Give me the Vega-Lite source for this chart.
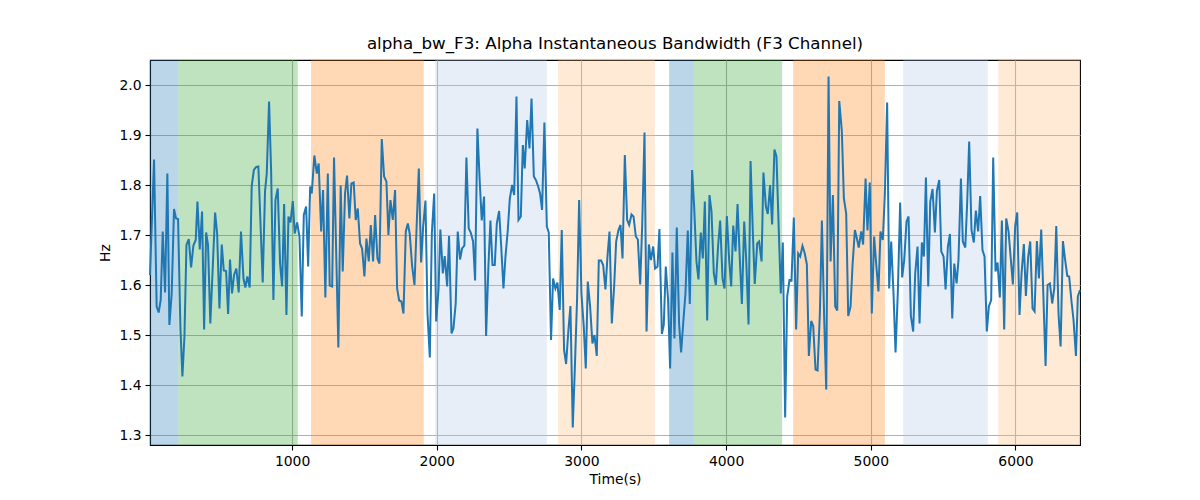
{
  "$schema": "https://vega.github.io/schema/vega-lite/v6.json",
  "width": 930,
  "height": 385,
  "autosize": {"type": "none"},
  "padding": {"left": 150, "top": 60, "right": 120, "bottom": 55},
  "background": "white",
  "title": {"text": "alpha_bw_F3: Alpha Instantaneous Bandwidth (F3 Channel)", "font": "DejaVu Sans", "fontSize": 16.7, "fontWeight": "normal", "color": "black", "anchor": "middle", "offset": 7},
  "config": {
    "font": "DejaVu Sans",
    "view": {"stroke": "black", "strokeWidth": 1.1},
    "axis": {
      "grid": true, "gridColor": "#b0b0b0", "gridWidth": 1.1,
      "domainColor": "black", "domainWidth": 1.1,
      "tickColor": "black", "tickSize": 5, "tickWidth": 1.1,
      "labelFont": "DejaVu Sans", "labelFontSize": 13.9, "labelColor": "black", "labelPadding": 4,
      "titleFont": "DejaVu Sans", "titleFontSize": 13.9, "titleFontWeight": "normal", "titleColor": "black"
    }
  },
  "datasets": {
    "bands": [
      {"start": 18, "end": 214, "phase": "P1"},
      {"start": 214, "end": 1039, "phase": "P2"},
      {"start": 1131, "end": 1910, "phase": "P3"},
      {"start": 1989, "end": 2761, "phase": "P4"},
      {"start": 2839, "end": 3507, "phase": "P5"},
      {"start": 3606, "end": 3777, "phase": "P1"},
      {"start": 3777, "end": 4387, "phase": "P2"},
      {"start": 4463, "end": 5097, "phase": "P3"},
      {"start": 5224, "end": 5809, "phase": "P4"},
      {"start": 5881, "end": 6446, "phase": "P5"}
    ],
    "series": [
      {"t":18,"v":1.62},{"t":46,"v":1.851},{"t":64,"v":1.557},{"t":78,"v":1.545},{"t":92,"v":1.57},{"t":106,"v":1.707},{"t":122,"v":1.585},{"t":138,"v":1.823},{"t":152,"v":1.52},{"t":168,"v":1.583},{"t":184,"v":1.752},{"t":198,"v":1.733},{"t":212,"v":1.732},{"t":228,"v":1.517},{"t":242,"v":1.417},{"t":256,"v":1.497},{"t":270,"v":1.68},{"t":286,"v":1.692},{"t":302,"v":1.635},{"t":318,"v":1.679},{"t":334,"v":1.69},{"t":346,"v":1.767},{"t":362,"v":1.671},{"t":378,"v":1.747},{"t":392,"v":1.511},{"t":406,"v":1.705},{"t":419,"v":1.68},{"t":435,"v":1.523},{"t":452,"v":1.637},{"t":468,"v":1.745},{"t":482,"v":1.703},{"t":498,"v":1.553},{"t":514,"v":1.681},{"t":528,"v":1.629},{"t":544,"v":1.628},{"t":558,"v":1.542},{"t":571,"v":1.651},{"t":585,"v":1.583},{"t":599,"v":1.62},{"t":615,"v":1.633},{"t":631,"v":1.585},{"t":647,"v":1.707},{"t":664,"v":1.613},{"t":677,"v":1.595},{"t":691,"v":1.617},{"t":707,"v":1.595},{"t":721,"v":1.798},{"t":736,"v":1.83},{"t":752,"v":1.836},{"t":767,"v":1.837},{"t":797,"v":1.605},
      {"t":813,"v":1.787},{"t":825,"v":1.823},{"t":841,"v":1.967},{"t":855,"v":1.83},{"t":871,"v":1.57},{"t":885,"v":1.77},{"t":901,"v":1.793},{"t":917,"v":1.643},{"t":931,"v":1.597},{"t":945,"v":1.762},{"t":961,"v":1.54},{"t":975,"v":1.737},{"t":989,"v":1.725},{"t":1005,"v":1.768},{"t":1018,"v":1.703},{"t":1035,"v":1.725},{"t":1051,"v":1.697},{"t":1067,"v":1.537},{"t":1081,"v":1.74},{"t":1097,"v":1.757},{"t":1111,"v":1.637},{"t":1125,"v":1.797},{"t":1136,"v":1.783},{"t":1154,"v":1.859},{"t":1171,"v":1.823},{"t":1184,"v":1.843},{"t":1201,"v":1.707},{"t":1214,"v":1.79},{"t":1230,"v":1.575},{"t":1247,"v":1.823},{"t":1260,"v":1.599},{"t":1277,"v":1.597},{"t":1290,"v":1.855},{"t":1320,"v":1.475},{"t":1336,"v":1.799},{"t":1350,"v":1.627},{"t":1366,"v":1.783},{"t":1380,"v":1.819},{"t":1396,"v":1.733},{"t":1410,"v":1.803},{"t":1426,"v":1.805},{"t":1440,"v":1.73},{"t":1454,"v":1.753},{"t":1470,"v":1.683},{"t":1484,"v":1.673},{"t":1500,"v":1.617},{"t":1514,"v":1.693},{"t":1530,"v":1.647},{"t":1544,"v":1.72},{"t":1560,"v":1.647},{"t":1574,"v":1.74},{"t":1590,"v":1.653},{"t":1604,"v":1.643},
      {"t":1620,"v":1.892},{"t":1636,"v":1.817},{"t":1652,"v":1.807},{"t":1666,"v":1.7},{"t":1680,"v":1.77},{"t":1696,"v":1.73},{"t":1712,"v":1.79},{"t":1726,"v":1.593},{"t":1740,"v":1.569},{"t":1756,"v":1.567},{"t":1770,"v":1.543},{"t":1786,"v":1.707},{"t":1800,"v":1.723},{"t":1813,"v":1.703},{"t":1830,"v":1.637},{"t":1846,"v":1.6},{"t":1860,"v":1.71},{"t":1876,"v":1.833},{"t":1892,"v":1.645},{"t":1906,"v":1.717},{"t":1922,"v":1.769},{"t":1936,"v":1.543},{"t":1952,"v":1.455},{"t":1966,"v":1.703},{"t":1982,"v":1.783},{"t":1996,"v":1.527},{"t":2012,"v":1.59},{"t":2025,"v":1.711},{"t":2042,"v":1.623},{"t":2055,"v":1.658},{"t":2072,"v":1.597},{"t":2085,"v":1.698},{"t":2102,"v":1.503},{"t":2115,"v":1.513},{"t":2131,"v":1.563},{"t":2145,"v":1.707},{"t":2161,"v":1.651},{"t":2175,"v":1.673},{"t":2191,"v":1.679},{"t":2205,"v":1.855},{"t":2221,"v":1.713},{"t":2235,"v":1.705},{"t":2251,"v":1.687},{"t":2265,"v":1.609},{"t":2281,"v":1.913},{"t":2297,"v":1.807},{"t":2311,"v":1.729},{"t":2327,"v":1.777},{"t":2341,"v":1.498},{"t":2357,"v":1.637},{"t":2371,"v":1.729},{"t":2385,"v":1.64},{"t":2401,"v":1.64},
      {"t":2415,"v":1.723},{"t":2431,"v":1.748},{"t":2445,"v":1.68},{"t":2461,"v":1.593},{"t":2475,"v":1.657},{"t":2491,"v":1.71},{"t":2505,"v":1.773},{"t":2521,"v":1.8},{"t":2535,"v":1.78},{"t":2551,"v":1.977},{"t":2565,"v":1.73},{"t":2581,"v":1.737},{"t":2595,"v":1.88},{"t":2608,"v":1.833},{"t":2625,"v":1.93},{"t":2641,"v":1.873},{"t":2655,"v":1.973},{"t":2671,"v":1.817},{"t":2685,"v":1.81},{"t":2701,"v":1.797},{"t":2714,"v":1.783},{"t":2728,"v":1.75},{"t":2744,"v":1.925},{"t":2761,"v":1.717},{"t":2774,"v":1.705},{"t":2790,"v":1.49},{"t":2804,"v":1.613},{"t":2820,"v":1.593},{"t":2834,"v":1.605},{"t":2850,"v":1.55},{"t":2864,"v":1.71},{"t":2880,"v":1.47},{"t":2894,"v":1.442},{"t":2910,"v":1.51},{"t":2924,"v":1.558},{"t":2940,"v":1.315},{"t":2954,"v":1.43},{"t":2970,"v":1.573},{"t":2984,"v":1.77},{"t":3000,"v":1.583},{"t":3016,"v":1.517},{"t":3030,"v":1.433},{"t":3044,"v":1.607},{"t":3060,"v":1.557},{"t":3076,"v":1.483},{"t":3090,"v":1.5},{"t":3106,"v":1.458},{"t":3120,"v":1.649},{"t":3136,"v":1.649},{"t":3150,"v":1.64},{"t":3166,"v":1.591},{"t":3180,"v":1.657},{"t":3194,"v":1.707},
      {"t":3210,"v":1.523},{"t":3226,"v":1.597},{"t":3240,"v":1.687},{"t":3256,"v":1.71},{"t":3270,"v":1.72},{"t":3284,"v":1.653},{"t":3300,"v":1.86},{"t":3316,"v":1.73},{"t":3330,"v":1.72},{"t":3346,"v":1.741},{"t":3360,"v":1.737},{"t":3376,"v":1.697},{"t":3390,"v":1.691},{"t":3406,"v":1.601},{"t":3420,"v":1.72},{"t":3436,"v":1.905},{"t":3450,"v":1.507},{"t":3466,"v":1.681},{"t":3480,"v":1.65},{"t":3496,"v":1.677},{"t":3509,"v":1.633},{"t":3526,"v":1.637},{"t":3539,"v":1.712},{"t":3556,"v":1.502},{"t":3569,"v":1.52},{"t":3583,"v":1.637},{"t":3599,"v":1.57},{"t":3613,"v":1.433},{"t":3629,"v":1.665},{"t":3643,"v":1.493},{"t":3659,"v":1.715},{"t":3675,"v":1.523},{"t":3689,"v":1.465},{"t":3705,"v":1.53},{"t":3719,"v":1.583},{"t":3735,"v":1.709},{"t":3749,"v":1.562},{"t":3765,"v":1.83},{"t":3779,"v":1.757},{"t":3795,"v":1.647},{"t":3809,"v":1.611},{"t":3825,"v":1.705},{"t":3839,"v":1.653},{"t":3853,"v":1.767},{"t":3869,"v":1.529},{"t":3885,"v":1.78},{"t":3899,"v":1.747},{"t":3915,"v":1.623},{"t":3929,"v":1.6},{"t":3945,"v":1.68},{"t":3959,"v":1.729},{"t":3975,"v":1.613},{"t":3989,"v":1.593},
      {"t":4005,"v":1.738},{"t":4021,"v":1.65},{"t":4035,"v":1.597},{"t":4049,"v":1.719},{"t":4065,"v":1.667},{"t":4079,"v":1.762},{"t":4095,"v":1.65},{"t":4109,"v":1.562},{"t":4125,"v":1.727},{"t":4139,"v":1.65},{"t":4155,"v":1.521},{"t":4169,"v":1.848},{"t":4185,"v":1.703},{"t":4198,"v":1.602},{"t":4215,"v":1.683},{"t":4228,"v":1.687},{"t":4245,"v":1.647},{"t":4258,"v":1.825},{"t":4275,"v":1.757},{"t":4288,"v":1.742},{"t":4304,"v":1.8},{"t":4318,"v":1.721},{"t":4334,"v":1.871},{"t":4348,"v":1.857},{"t":4364,"v":1.71},{"t":4378,"v":1.583},{"t":4392,"v":1.685},{"t":4408,"v":1.335},{"t":4422,"v":1.577},{"t":4438,"v":1.61},{"t":4452,"v":1.609},{"t":4468,"v":1.735},{"t":4484,"v":1.511},{"t":4498,"v":1.663},{"t":4512,"v":1.657},{"t":4528,"v":1.678},{"t":4542,"v":1.665},{"t":4558,"v":1.642},{"t":4572,"v":1.458},{"t":4588,"v":1.528},{"t":4602,"v":1.518},{"t":4618,"v":1.431},{"t":4632,"v":1.429},{"t":4648,"v":1.543},{"t":4662,"v":1.729},{"t":4678,"v":1.531},{"t":4692,"v":1.391},{"t":4708,"v":2.017},{"t":4722,"v":1.647},{"t":4738,"v":1.78},{"t":4754,"v":1.557},{"t":4768,"v":1.549},{"t":4782,"v":1.968},
      {"t":4800,"v":1.907},{"t":4814,"v":1.773},{"t":4830,"v":1.743},{"t":4844,"v":1.538},{"t":4860,"v":1.557},{"t":4874,"v":1.64},{"t":4890,"v":1.71},{"t":4904,"v":1.693},{"t":4917,"v":1.675},{"t":4934,"v":1.707},{"t":4947,"v":1.681},{"t":4964,"v":1.813},{"t":4977,"v":1.709},{"t":4993,"v":1.805},{"t":5007,"v":1.543},{"t":5023,"v":1.697},{"t":5037,"v":1.643},{"t":5053,"v":1.587},{"t":5067,"v":1.707},{"t":5083,"v":1.69},{"t":5097,"v":1.78},{"t":5113,"v":1.965},{"t":5127,"v":1.593},{"t":5141,"v":1.687},{"t":5157,"v":1.583},{"t":5171,"v":1.465},{"t":5187,"v":1.587},{"t":5203,"v":1.765},{"t":5217,"v":1.615},{"t":5231,"v":1.65},{"t":5247,"v":1.727},{"t":5261,"v":1.737},{"t":5277,"v":1.538},{"t":5293,"v":1.507},{"t":5307,"v":1.623},{"t":5323,"v":1.677},{"t":5337,"v":1.523},{"t":5353,"v":1.685},{"t":5367,"v":1.657},{"t":5381,"v":1.815},{"t":5397,"v":1.597},{"t":5411,"v":1.767},{"t":5427,"v":1.792},{"t":5443,"v":1.705},{"t":5457,"v":1.788},{"t":5473,"v":1.81},{"t":5487,"v":1.667},{"t":5503,"v":1.657},{"t":5517,"v":1.591},{"t":5533,"v":1.677},{"t":5547,"v":1.702},{"t":5563,"v":1.533},{"t":5577,"v":1.643},
      {"t":5593,"v":1.603},{"t":5606,"v":1.65},{"t":5623,"v":1.813},{"t":5636,"v":1.687},{"t":5653,"v":1.675},{"t":5666,"v":1.763},{"t":5680,"v":1.887},{"t":5696,"v":1.71},{"t":5712,"v":1.685},{"t":5726,"v":1.749},{"t":5742,"v":1.707},{"t":5756,"v":1.778},{"t":5772,"v":1.67},{"t":5786,"v":1.657},{"t":5802,"v":1.507},{"t":5816,"v":1.557},{"t":5832,"v":1.57},{"t":5846,"v":1.855},{"t":5862,"v":1.627},{"t":5876,"v":1.645},{"t":5892,"v":1.575},{"t":5906,"v":1.729},{"t":5922,"v":1.511},{"t":5936,"v":1.733},{"t":5952,"v":1.707},{"t":5968,"v":1.651},{"t":5982,"v":1.601},{"t":5998,"v":1.718},{"t":6012,"v":1.745},{"t":6028,"v":1.54},{"t":6042,"v":1.623},{"t":6058,"v":1.682},{"t":6072,"v":1.578},{"t":6088,"v":1.657},{"t":6102,"v":1.687},{"t":6118,"v":1.553},{"t":6132,"v":1.547},{"t":6148,"v":1.688},{"t":6162,"v":1.613},{"t":6178,"v":1.711},{"t":6192,"v":1.587},{"t":6208,"v":1.438},{"t":6222,"v":1.6},{"t":6238,"v":1.603},{"t":6254,"v":1.563},{"t":6268,"v":1.593},{"t":6282,"v":1.718},{"t":6298,"v":1.54},{"t":6312,"v":1.477},{"t":6328,"v":1.688},{"t":6342,"v":1.653},{"t":6358,"v":1.618},{"t":6371,"v":1.617},{"t":6388,"v":1.565},{"t":6401,"v":1.531},{"t":6418,"v":1.458},{"t":6431,"v":1.577},{"t":6446,"v":1.59}
    ]
  },
  "layer": [
    {
      "data": {"name": "bands"},
      "mark": {"type": "rect", "opacity": 0.3},
      "encoding": {
        "x": {"field": "start", "type": "quantitative", "scale": {"domain": [18, 6446], "nice": false, "zero": false}, "axis": {"values": [1000, 2000, 3000, 4000, 5000, 6000], "format": "d", "title": "Time(s)", "titlePadding": 5}},
        "x2": {"field": "end"},
        "color": {"field": "phase", "type": "nominal", "scale": {"domain": ["P1", "P2", "P3", "P4", "P5"], "range": ["#1f77b4", "#2ca02c", "#ff7f0e", "#aec7e8", "#ffbb78"]}, "legend": null}
      }
    },
    {
      "data": {"name": "series"},
      "mark": {"type": "line", "color": "#1f77b4", "strokeWidth": 2},
      "encoding": {
        "x": {"field": "t", "type": "quantitative"},
        "y": {"field": "v", "type": "quantitative", "scale": {"domain": [1.28, 2.05], "nice": false, "zero": false}, "axis": {"values": [1.3, 1.4, 1.5, 1.6, 1.7, 1.8, 1.9, 2.0], "format": ".1f", "title": "Hz", "titlePadding": 6}}
      }
    }
  ]
}
